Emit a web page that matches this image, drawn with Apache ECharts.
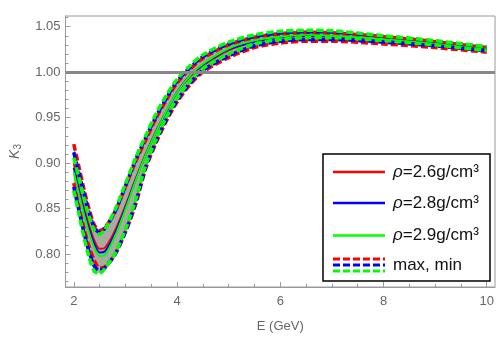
<!DOCTYPE html>
<html>
<head>
<meta charset="utf-8">
<script src="https://cdn.jsdelivr.net/npm/echarts@6/dist/echarts.min.js"></script>
<style>
  html, body { margin: 0; padding: 0; background: #fff; }
  #chart { width: 498px; height: 352px; }
</style>
</head>
<body>
<div id="chart"></div>
<script>
// beam energy (GeV)
const energy = [2, 2.1, 2.2, 2.3, 2.4, 2.5, 2.6, 2.8, 3, 3.2, 3.4, 3.6, 3.8, 4, 4.25, 4.5, 5, 5.5, 6, 6.5, 7, 8, 9, 10]

// central K3 curves
const k3Rho26 = [0.900, 0.874, 0.851, 0.831, 0.815, 0.806, 0.807, 0.826, 0.853, 0.883, 0.911, 0.936, 0.958, 0.978, 0.995, 1.007, 1.024, 1.033, 1.038, 1.0395, 1.039, 1.0355, 1.0305, 1.0245]
const k3Rho28 = [0.895, 0.870, 0.847, 0.827, 0.811, 0.802, 0.803, 0.823, 0.851, 0.882, 0.910, 0.935, 0.957, 0.978, 0.996, 1.008, 1.025, 1.033, 1.038, 1.040, 1.0395, 1.036, 1.031, 1.025]
const k3Rho29 = [0.890, 0.866, 0.843, 0.823, 0.807, 0.798, 0.799, 0.820, 0.849, 0.881, 0.910, 0.935, 0.958, 0.978, 0.996, 1.009, 1.026, 1.035, 1.039, 1.041, 1.040, 1.0365, 1.0315, 1.0255]

// max / min curves
const maxRho26 = [0.921, 0.896, 0.871, 0.849, 0.832, 0.826, 0.829, 0.847, 0.874, 0.902, 0.926, 0.950, 0.970, 0.988, 1.003, 1.015, 1.030, 1.038, 1.042, 1.0435, 1.043, 1.039, 1.0335, 1.027]
const maxRho28 = [0.912, 0.889, 0.866, 0.845, 0.829, 0.824, 0.828, 0.847, 0.875, 0.904, 0.929, 0.952, 0.972, 0.990, 1.005, 1.017, 1.031, 1.039, 1.043, 1.0445, 1.044, 1.0395, 1.034, 1.0275]
const maxRho29 = [0.906, 0.884, 0.861, 0.841, 0.826, 0.822, 0.827, 0.849, 0.877, 0.906, 0.931, 0.955, 0.975, 0.992, 1.007, 1.019, 1.033, 1.041, 1.045, 1.046, 1.0455, 1.040, 1.0345, 1.028]
const minRho26 = [0.878, 0.852, 0.828, 0.808, 0.793, 0.785, 0.786, 0.800, 0.824, 0.855, 0.895, 0.923, 0.947, 0.967, 0.986, 1.000, 1.016, 1.027, 1.032, 1.034, 1.034, 1.031, 1.027, 1.022]
const minRho28 = [0.874, 0.848, 0.823, 0.802, 0.787, 0.782, 0.785, 0.800, 0.825, 0.857, 0.897, 0.925, 0.949, 0.969, 0.988, 1.002, 1.018, 1.029, 1.034, 1.036, 1.036, 1.033, 1.029, 1.0235]
const minRho29 = [0.870, 0.844, 0.818, 0.796, 0.781, 0.779, 0.784, 0.801, 0.827, 0.860, 0.899, 0.927, 0.951, 0.971, 0.990, 1.004, 1.020, 1.031, 1.036, 1.038, 1.038, 1.035, 1.030, 1.024]

// axis ticks
const xTicks = [2, 4, 6, 8, 10]
const xMinorTicks = [2.5, 3, 3.5, 4.5, 5, 5.5, 6.5, 7, 7.5, 8.5, 9, 9.5]
const yTicks = [0.80, 0.85, 0.90, 0.95, 1.00, 1.05]
const yMinorTicks = [0.77, 0.78, 0.79, 0.81, 0.82, 0.83, 0.84, 0.86, 0.87, 0.88, 0.89, 0.91, 0.92, 0.93, 0.94,
  0.96, 0.97, 0.98, 0.99, 1.01, 1.02, 1.03, 1.04, 1.06]

const legendLabels = ["2.6", "2.8", "2.9"]

const RED = "#ff0000"
const BLUE = "#0000ff"
const GREEN = "#00ff00"
const AXIS_GRAY = "#9a9a9a"
const LABEL_GRAY = "#666666"
const FONT = "Liberation Sans"

function pairs(values) {
  return energy.map((e, i) => [e, values[i]])
}

// gray band between the outermost max and min curves
const lowEnv = energy.map((_, i) => Math.min(minRho26[i], minRho28[i], minRho29[i]))
const highEnv = energy.map((_, i) => Math.max(maxRho26[i], maxRho28[i], maxRho29[i]))

function solidSeries(values, color) {
  return {
    type: "line", data: pairs(values), smooth: 0.3, symbol: "none", z: 3,
    lineStyle: { color, width: 2 },
  }
}

function dashedSeries(values, color) {
  return {
    type: "line", data: pairs(values), smooth: 0.3, symbol: "none", z: 4,
    lineStyle: { color, width: 3.5, type: [7, 3], cap: "butt" },
  }
}

const chart = echarts.init(document.getElementById("chart"))

const axisX = { min: 1.84, max: 10.16 }
const axisY = { min: 0.764, max: 1.0617 }

const legendRows = [172, 203, 235.5]
const legendGraphics = [
  {
    type: "rect", z: 100, shape: { x: 323, y: 154, width: 167, height: 127 },
    style: { fill: "#fff", stroke: "#000", lineWidth: 1.5 },
  },
]
;[RED, BLUE, GREEN].forEach((c, i) => {
  legendGraphics.push({
    type: "line", z: 101, shape: { x1: 333, y1: legendRows[i], x2: 385, y2: legendRows[i] },
    style: { stroke: c, lineWidth: 2.7 },
  })
  legendGraphics.push({
    type: "text", z: 101, x: 393, y: legendRows[i],
    style: {
      text: "{i|ρ}{n|=" + legendLabels[i] + "g/cm³}",
      rich: {
        i: { fontStyle: "italic", fontSize: 17, fontFamily: FONT, fill: "#111" },
        n: { fontSize: 17, fontFamily: FONT, fill: "#111" },
      },
      verticalAlign: "middle",
    },
  })
})
;[[RED, 259], [BLUE, 265], [GREEN, 271]].forEach(([c, y]) => {
  legendGraphics.push({
    type: "line", z: 101, shape: { x1: 333, y1: y, x2: 385, y2: y },
    style: { stroke: c, lineWidth: 3, lineDash: [7, 3] },
  })
})
legendGraphics.push({
  type: "text", z: 101, x: 393, y: 265,
  style: { text: "max, min", fontSize: 17, fontFamily: FONT, fill: "#111", verticalAlign: "middle" },
})

chart.setOption({
  animation: false,
  textStyle: { fontFamily: FONT },
  grid: { left: 57, right: 3, top: 16, bottom: 65, show: true, borderColor: AXIS_GRAY, borderWidth: 1 },
  xAxis: [
    {
      type: "value", ...axisX, position: "bottom",
      name: "E (GeV)", nameLocation: "middle", nameGap: 33,
      nameTextStyle: { color: LABEL_GRAY, fontSize: 13, fontFamily: FONT },
      axisLine: { show: true, lineStyle: { color: AXIS_GRAY } },
      axisTick: { show: true, inside: true, length: 5, customValues: xTicks, lineStyle: { color: AXIS_GRAY } },
      axisLabel: { customValues: xTicks, color: LABEL_GRAY, fontSize: 13, margin: 8 },
      splitLine: { show: false },
    },
    {
      type: "value", ...axisX, position: "bottom",
      axisLine: { show: false },
      axisTick: { show: true, inside: true, length: 3, customValues: xMinorTicks, lineStyle: { color: AXIS_GRAY } },
      axisLabel: { show: false },
      splitLine: { show: false },
    },
  ],
  yAxis: [
    {
      type: "value", ...axisY, position: "left",
      name: "{k|K}{s|3}", nameLocation: "middle", nameGap: 42, nameRotate: 90,
      nameTextStyle: {
        rich: {
          k: { fontStyle: "italic", fontSize: 14, color: LABEL_GRAY, fontFamily: FONT },
          s: { fontSize: 10, color: LABEL_GRAY, fontFamily: FONT, padding: [7, 0, 0, 0] },
        },
      },
      axisLine: { show: true, lineStyle: { color: AXIS_GRAY } },
      axisTick: { show: true, inside: true, length: 5, customValues: yTicks, lineStyle: { color: AXIS_GRAY } },
      axisLabel: {
        customValues: yTicks, color: LABEL_GRAY, fontSize: 13, margin: 5,
        formatter: (v) => v.toFixed(2),
      },
      splitLine: { show: false },
    },
    {
      type: "value", ...axisY, position: "left",
      axisLine: { show: false },
      axisTick: { show: true, inside: true, length: 3, customValues: yMinorTicks, lineStyle: { color: AXIS_GRAY } },
      axisLabel: { show: false },
      splitLine: { show: false },
    },
  ],
  graphic: legendGraphics,
  series: [
    {
      type: "line", data: [], symbol: "none", z: 1,
      markLine: {
        silent: true, symbol: "none", label: { show: false },
        lineStyle: { color: "#888888", width: 3, type: "solid" },
        data: [{ yAxis: 1.0 }],
      },
    },
    {
      type: "custom", z: 2,
      data: energy.map((e, i) => [e, lowEnv[i], highEnv[i]]),
      encode: { x: 0, y: [1, 2] },
      renderItem: (params, api) => {
        if (params.dataIndex !== 0) return null
        const top = energy.map((e, i) => api.coord([e, highEnv[i]]))
        const bottom = energy.map((e, i) => api.coord([e, lowEnv[i]])).reverse()
        return {
          type: "polygon",
          shape: { points: top.concat(bottom) },
          style: { fill: "#a8ab9f" },
        }
      },
    },
    solidSeries(k3Rho26, RED),
    solidSeries(k3Rho28, BLUE),
    solidSeries(k3Rho29, GREEN),
    dashedSeries(maxRho26, RED),
    dashedSeries(minRho26, RED),
    dashedSeries(maxRho28, BLUE),
    dashedSeries(minRho28, BLUE),
    dashedSeries(maxRho29, GREEN),
    dashedSeries(minRho29, GREEN),
  ],
})
</script>
</body>
</html>
